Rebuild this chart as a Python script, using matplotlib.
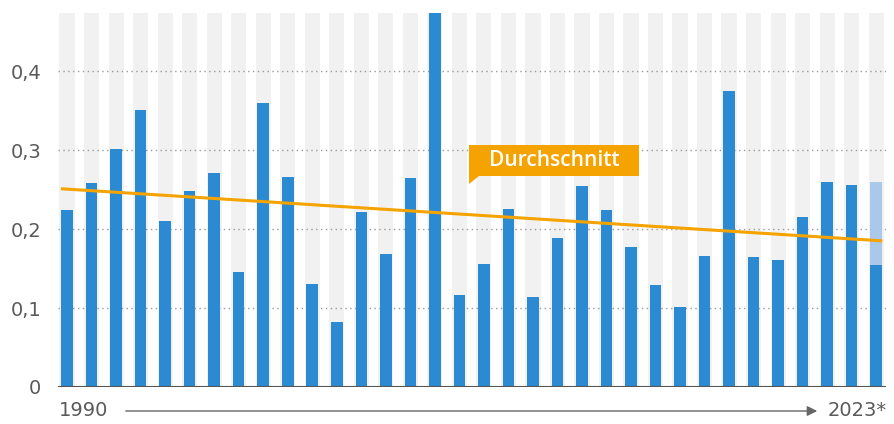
import numpy as np
import matplotlib
matplotlib.use("Agg")
import matplotlib.pyplot as plt
from matplotlib.patches import Polygon, FancyArrowPatch

# data
years = list(range(1990, 2024))
values = [0.224, 0.258, 0.301, 0.351, 0.210, 0.248, 0.271, 0.146, 0.359, 0.266,
          0.130, 0.082, 0.222, 0.169, 0.265, 0.473, 0.117, 0.156, 0.225, 0.114,
          0.189, 0.255, 0.224, 0.177, 0.129, 0.101, 0.166, 0.375, 0.164, 0.161,
          0.215, 0.260, 0.256, 0.154]
# projected part of the last year (light blue)
last_total = 0.260
trend_ends = [0.251, 0.185]
yticks = [0, 0.1, 0.2, 0.3, 0.4]
ytick_labels = ["0", "0,1", "0,2", "0,3", "0,4"]
first_label = "1990"
last_label = "2023*"
trend_label = "Durchschnitt"

BLUE = "#2b8ad2"
LIGHT_BLUE = "#a9c8ea"
GREY_COL = "#f1f1f1"
ORANGE = "#f5a300"
TEXT = "#5a5a5a"

plt.rcParams["font.family"] = ["DejaVu Sans"]

W, H = 894, 424
fig = plt.figure(figsize=(W / 100, H / 100), dpi=100)
ax = fig.add_axes([58 / W, 37 / H, 828 / W, 374 / H])

x = np.arange(len(years))
ymax = 0.4735

ax.bar(x, [ymax] * len(x), width=0.62, color=GREY_COL, zorder=0)
ax.bar(x[-1], last_total, width=0.47, color=LIGHT_BLUE, zorder=2)
ax.bar(x, values, width=0.47, color=BLUE, zorder=3)

for t in yticks[1:]:
    ax.axhline(t, color="#9a9a9a", lw=1.0, ls=(0, (1, 2.5)), zorder=1)
ax.axhline(0, color="#555555", lw=1.5, zorder=4)

# trend line over the full bar range
ax.plot([x[0] - 0.25, x[-1] + 0.25], trend_ends, color=ORANGE, lw=2.2,
        solid_capstyle="butt", zorder=5)

ax.set_xlim(-0.37, x[-1] + 0.4)
ax.set_ylim(0, ymax)
ax.set_yticks(yticks)
ax.set_yticklabels(ytick_labels)
ax.set_xticks([])
ax.tick_params(axis="y", length=0, pad=12, labelsize=14, labelcolor=TEXT)
for s in ax.spines.values():
    s.set_visible(False)


def fx(px):
    return px / W


def fy(py):
    return 1 - py / H


# label box with a small tail at the lower left
box = Polygon([(fx(469), fy(145)), (fx(639), fy(145)), (fx(639), fy(176)),
               (fx(479), fy(176)), (fx(469), fy(184)), (fx(469), fy(145))],
              closed=True, transform=fig.transFigure, fc=ORANGE, ec="none",
              zorder=6)
fig.add_artist(box)
fig.text(fx(554), fy(160.5), trend_label, color="white", fontsize=15,
         family=["Open Sans", "DejaVu Sans"], fontweight="semibold",
         ha="center", va="center", zorder=7)

# bottom time axis
fig.text(fx(59), fy(411), first_label, fontsize=14, color=TEXT,
         ha="left", va="center")
fig.text(fx(828), fy(411), last_label, fontsize=14, color=TEXT,
         ha="left", va="center")
fig.add_artist(FancyArrowPatch(
    (fx(123), fy(411)), (fx(820), fy(411)),
    transform=fig.transFigure, arrowstyle="-|>,head_length=6,head_width=3",
    color="#666666", lw=1.0, mutation_scale=1))

fig.savefig("out.png", dpi=100)
